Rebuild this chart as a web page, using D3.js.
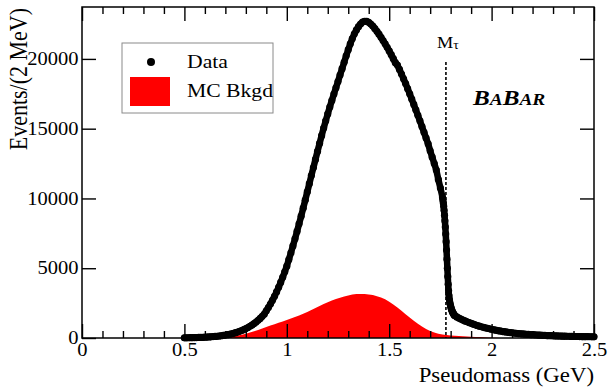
<!DOCTYPE html>
<html>
<head>
<meta charset="utf-8">
<script src="https://cdn.jsdelivr.net/npm/d3@7"></script>
<style>
  body { margin: 0; background: #fff; }
</style>
</head>
<body>
<div id="chart"></div>
<script>
// Axis ticks
const xTickValues = [0, 0.5, 1, 1.5, 2, 2.5];
const xTickLabels = ["0", "0.5", "1", "1.5", "2", "2.5"];
const xMinorTicks = [0.1, 0.2, 0.3, 0.4, 0.6, 0.7, 0.8, 0.9, 1.1, 1.2, 1.3, 1.4, 1.6, 1.7, 1.8, 1.9, 2.1, 2.2, 2.3, 2.4];
const yTickValues = [0, 5000, 10000, 15000, 20000];
const yTickLabels = ["0", "5000", "10000", "15000", "20000"];

// Data (events / 2 MeV)
// 0.50 - 1.76 GeV, every 10 MeV
const dataLow = [
  12, 14, 17, 20, 24, 28, 33, 38, 44, 51,
  58, 66, 76, 87, 99, 112, 127, 144, 163, 185,
  209, 236, 266, 300, 337, 380, 428, 480, 538, 603,
  675, 752, 838, 932, 1035, 1148, 1270, 1405, 1550, 1710,
  1950, 2180, 2430, 2700, 2990, 3300, 3630, 3980, 4350, 4740,
  5150, 5620, 6100, 6600, 7110, 7640, 8180, 8730, 9300, 9880,
  10470, 11060, 11640, 12220, 12800, 13370, 13940, 14500, 15040, 15560,
  16060, 16550, 17020, 17480, 17930, 18380, 18840, 19300, 19760, 20220,
  20660, 21080, 21460, 21800, 22080, 22310, 22500, 22640, 22700, 22690,
  22620, 22500, 22350, 22170, 21980, 21770, 21550, 21320, 21080, 20830,
  20570, 20300, 20020, 19730, 19560, 19250, 18920, 18580, 18230, 17870,
  17500, 17120, 16740, 16350, 15960, 15560, 15150, 14740, 14330, 13920,
  13420, 12960, 12500, 12040, 11350, 10750, 10100
];
// 1.762 - 1.820 GeV, every 2 MeV (the tau mass edge)
const dataEdge = [
  9900, 9700, 9450, 9150, 8800, 8400, 7950, 7450, 6900, 6300,
  5650, 5000, 4400, 3850, 3380, 3020, 2750, 2560, 2400, 2270,
  2160, 2060, 1980, 1900, 1840, 1780, 1730, 1680, 1640, 1600
];
// 1.83 - 2.50 GeV, every 10 MeV
const dataHigh = [
  1510, 1430, 1360, 1290, 1225, 1165, 1105, 1050, 995, 945,
  895, 850, 805, 765, 725, 690, 655, 620, 590, 560,
  530, 505, 480, 455, 432, 410, 390, 370, 350, 335,
  320, 305, 292, 280, 268, 256, 245, 235, 225, 216,
  207, 199, 191, 184, 177, 170, 164, 158, 152, 147,
  142, 137, 132, 128, 124, 120, 116, 112, 109, 106,
  103, 100, 97, 94, 92, 89, 87, 85
];
// MC background, 0.60 - 2.04 GeV every 20 MeV
const mcBkgd = [
  0, 5, 10, 20, 35, 55, 85, 125, 175, 240,
  310, 390, 480, 580, 680, 790, 890, 990, 1090, 1190,
  1290, 1400, 1500, 1610, 1730, 1860, 2000, 2150, 2290, 2430,
  2560, 2680, 2790, 2890, 2980, 3050, 3110, 3150, 3160, 3150,
  3120, 3080, 3000, 2900, 2770, 2600, 2400, 2180, 1950, 1710,
  1470, 1240, 1020, 820, 640, 500, 390, 310, 250, 210,
  180, 160, 140, 125, 110, 95, 80, 65, 50, 35,
  20, 10, 0
];
const tauMass = 1.777;

const width = 608;
const height = 389;
const marginLeft = 82;
const marginRight = 14;
const marginTop = 7;
const marginBottom = 51;
const stretch = 1.14; // the original figure is a bit wider than tall
const serif = "Liberation Serif, Times New Roman, serif";

const svg = d3.create("svg")
    .attr("width", width)
    .attr("height", height)
    .attr("viewBox", [0, 0, width, height]);

svg.append("rect").attr("width", width).attr("height", height).attr("fill", "#fff");

const x = d3.scaleLinear([0, 2.5], [marginLeft, width - marginRight]);
const y = d3.scaleLinear([0, 23720], [height - marginBottom, marginTop]);

// Build points from the bin grids
const dataPoints = [
  ...dataLow.map((v, i) => [0.50 + i * 0.01, v]),
  ...dataEdge.map((v, i) => [1.762 + i * 0.002, v]),
  ...dataHigh.map((v, i) => [1.83 + i * 0.01, v])
];
const mcPoints = mcBkgd.map((v, i) => [0.60 + i * 0.02, v]);

// MC background
svg.append("path")
    .datum(mcPoints)
    .attr("fill", "#ff0000")
    .attr("d", d3.area().x(d => x(d[0])).y0(y(0)).y1(d => y(d[1])));

// tau mass line
svg.append("line")
    .attr("x1", x(tauMass)).attr("x2", x(tauMass))
    .attr("y1", 62).attr("y2", y(0))
    .attr("stroke", "#000")
    .attr("stroke-width", 1.6)
    .attr("stroke-dasharray", "3,2");

// Data: thick band + markers
svg.append("path")
    .datum(dataPoints)
    .attr("fill", "none")
    .attr("stroke", "#000")
    .attr("stroke-width", 6.5)
    .attr("stroke-linejoin", "round")
    .attr("stroke-linecap", "round")
    .attr("d", d3.line().x(d => x(d[0])).y(d => y(d[1])));

svg.append("g")
    .selectAll("circle")
    .data(dataPoints)
    .join("circle")
    .attr("cx", d => x(d[0]))
    .attr("cy", d => y(d[1]))
    .attr("r", 3.6)
    .attr("fill", "#000");

// Axes
function styleAxis(g) {
    g.select(".domain").remove();
    g.selectAll(".tick line").attr("stroke", "#000").attr("stroke-width", 1.4);
    g.selectAll("text")
        .attr("font-family", serif)
        .attr("font-size", 18)
        .attr("fill", "#000")
        .attr("transform", `scale(${stretch},1)`);
}

svg.append("g")
    .attr("transform", `translate(0,${y(0)})`)
    .call(d3.axisBottom(x).tickValues(xTickValues).tickSize(-14).tickPadding(5)
        .tickFormat((d, i) => xTickLabels[i]))
    .call(styleAxis);
svg.append("g")
    .attr("transform", `translate(0,${y(0)})`)
    .call(d3.axisBottom(x).tickValues(xMinorTicks).tickSize(-7).tickFormat(""))
    .call(styleAxis);
svg.append("g")
    .attr("transform", `translate(0,${marginTop})`)
    .call(d3.axisTop(x).tickValues(xTickValues).tickSize(-14).tickFormat(""))
    .call(styleAxis);
svg.append("g")
    .attr("transform", `translate(0,${marginTop})`)
    .call(d3.axisTop(x).tickValues(xMinorTicks).tickSize(-7).tickFormat(""))
    .call(styleAxis);
svg.append("g")
    .attr("transform", `translate(${marginLeft},0)`)
    .call(d3.axisLeft(y).tickValues(yTickValues).tickSize(-14).tickPadding(3)
        .tickFormat((d, i) => yTickLabels[i]))
    .call(styleAxis);
svg.append("g")
    .attr("transform", `translate(${width - marginRight},0)`)
    .call(d3.axisRight(y).tickValues(yTickValues).tickSize(-14).tickFormat(""))
    .call(styleAxis);

// Frame
svg.append("rect")
    .attr("x", marginLeft).attr("y", marginTop)
    .attr("width", width - marginLeft - marginRight)
    .attr("height", height - marginTop - marginBottom)
    .attr("fill", "none")
    .attr("stroke", "#000")
    .attr("stroke-width", 1.5);

// Axis titles
svg.append("text")
    .attr("transform", `translate(${width - marginRight},382) scale(${stretch},1)`)
    .attr("text-anchor", "end")
    .attr("font-family", serif)
    .attr("font-size", 20)
    .text("Pseudomass (GeV)");

svg.append("text")
    .attr("transform", `translate(27,8) rotate(-90) scale(1,${stretch})`)
    .attr("text-anchor", "end")
    .attr("font-family", serif)
    .attr("font-size", 22)
    .text("Events/(2 MeV)");

// Legend
const legend = svg.append("g");
legend.append("rect")
    .attr("x", 122).attr("y", 43).attr("width", 151).attr("height", 70)
    .attr("fill", "#fff").attr("stroke", "#8a8a8a").attr("stroke-width", 1);
legend.append("circle").attr("cx", 151).attr("cy", 62).attr("r", 4).attr("fill", "#000");
legend.append("rect").attr("x", 130).attr("y", 77).attr("width", 40).attr("height", 29).attr("fill", "#ff0000");
legend.append("text")
    .attr("transform", `translate(187,68) scale(${stretch},1)`)
    .attr("font-family", serif).attr("font-size", 19)
    .text("Data");
legend.append("text")
    .attr("transform", `translate(187,97) scale(${stretch},1)`)
    .attr("font-family", serif).attr("font-size", 19)
    .text("MC Bkgd");

// M_tau label
const mt = svg.append("text")
    .attr("transform", `translate(437,48) scale(${stretch},1)`)
    .attr("font-family", serif).attr("font-size", 16);
mt.append("tspan").text("M");
mt.append("tspan").attr("font-size", 12).attr("dy", 1).text("τ");

// BaBar logo
const logo = svg.append("text")
    .attr("transform", `translate(473,105) scale(${stretch},1)`)
    .attr("font-family", serif)
    .attr("font-weight", "bold")
    .attr("font-style", "italic");
logo.append("tspan").attr("font-size", 22).text("B");
logo.append("tspan").attr("font-size", 17).text("A");
logo.append("tspan").attr("font-size", 22).text("B");
logo.append("tspan").attr("font-size", 17).text("AR");

document.getElementById("chart").appendChild(svg.node());
</script>
</body>
</html>
